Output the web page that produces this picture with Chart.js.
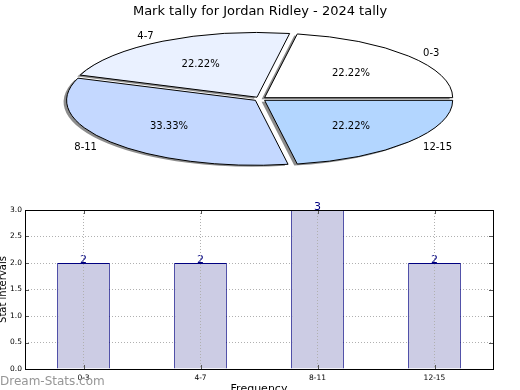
<!DOCTYPE html>
<html>
<head>
<meta charset="utf-8">
<script src="https://cdn.jsdelivr.net/npm/chart.js@4.4.1/dist/chart.umd.min.js"></script>
<style>
  html, body { margin: 0; padding: 0; background: #fff; }
  #wrap { position: relative; width: 520px; height: 390px; overflow: hidden; }
  #bars { position: absolute; left: 0; top: 200px; }
  #pie { position: absolute; left: 0; top: 0; }
</style>
</head>
<body>
<div id="wrap">
  <canvas id="bars" width="520" height="190"></canvas>
  <canvas id="pie" width="520" height="390"></canvas>
</div>
<script>
const TITLE = 'Mark tally for Jordan Ridley - 2024 tally';
const CATEGORIES = ['0-3', '4-7', '8-11', '12-15'];
const COUNTS = [2, 2, 3, 2];
const SLICE_COLORS = ['#ffffff', '#eaf1ff', '#c4d8ff', '#b3d6ff'];
const Y_TICKS = [0, 0.5, 1, 1.5, 2, 2.5, 3];
const Y_TITLE = 'Stat intervals';
const X_TITLE = 'Frequency';
const WATERMARK = 'Dream-Stats.com';

// pie geometry (matplotlib style squashed pie)
const PIE_CX = 260;
const PIE_CY = 99;
const PIE_R = 188;
const SQUASH = 0.344;
const EXPLODE = 6;

Chart.defaults.font.family = '"DejaVu Sans", sans-serif';
Chart.defaults.color = '#000';

const total = COUNTS.reduce((a, b) => a + b, 0);

const ellipsePie = {
  id: 'ellipsePie',
  beforeDatasetsDraw(chart) {
    const ctx = chart.ctx;
    const arc = chart.getDatasetMeta(0).data[0];
    ctx.save();
    ctx.translate(PIE_CX, PIE_CY);
    ctx.scale(1, SQUASH);
    ctx.translate(-arc.x, -arc.y);
    ctx.shadowColor = 'rgba(0, 0, 0, 0.45)';
    ctx.shadowOffsetX = -3;
    ctx.shadowOffsetY = 1.5;
    const stroke = ctx.stroke;
    // keep the outline 1px wide even though the pie is squashed
    ctx.stroke = function () {
      this.save();
      this.setTransform(1, 0, 0, 1, 0, 0);
      this.shadowColor = 'transparent';
      stroke.call(this);
      this.restore();
    };
  },
  afterDatasetsDraw(chart) {
    const ctx = chart.ctx;
    delete ctx.stroke;
    ctx.restore();

    ctx.save();
    ctx.font = '10px "DejaVu Sans"';
    ctx.fillStyle = '#000';
    ctx.textBaseline = 'middle';
    let cum = 0;
    COUNTS.forEach((v, i) => {
      const mid = (cum + v / 2) / total * 2 * Math.PI;
      cum += v;
      const c = Math.cos(mid), s = Math.sin(mid);
      const lr = EXPLODE + 1.1 * PIE_R;
      const pr = EXPLODE + 0.6 * PIE_R;
      ctx.textAlign = c >= 0 ? 'left' : 'right';
      ctx.fillText(CATEGORIES[i], PIE_CX + lr * c, PIE_CY + 1 - lr * s * SQUASH);
      ctx.textAlign = 'center';
      ctx.fillText((v / total * 100).toFixed(2) + '%', PIE_CX + pr * c, PIE_CY + 1 - pr * s * SQUASH);
    });
    ctx.restore();
  }
};

new Chart(document.getElementById('pie'), {
  type: 'pie',
  data: {
    labels: CATEGORIES.slice().reverse(),
    datasets: [{
      data: COUNTS.slice().reverse(),
      backgroundColor: SLICE_COLORS.slice().reverse(),
      borderColor: '#000',
      borderWidth: 1,
      offset: EXPLODE * 4,
      clip: false
    }]
  },
  options: {
    responsive: false,
    animation: false,
    events: [],
    radius: PIE_R,
    rotation: 90,
    plugins: {
      legend: { display: false },
      tooltip: { enabled: false },
      title: {
        display: true,
        text: TITLE,
        color: '#000',
        font: { size: 13, weight: 'normal' },
        padding: { top: 4, bottom: 0 }
      }
    }
  },
  plugins: [ellipsePie]
});

const barDecor = {
  id: 'barDecor',
  afterDatasetsDraw(chart) {
    const ctx = chart.ctx;
    ctx.save();
    ctx.font = '11px "DejaVu Sans"';
    ctx.fillStyle = '#000080';
    ctx.textAlign = 'center';
    ctx.textBaseline = 'alphabetic';
    chart.getDatasetMeta(0).data.forEach((bar, i) => {
      ctx.fillText(String(COUNTS[i]), bar.x, bar.y);
    });
    ctx.restore();
  },
  afterDraw(chart) {
    const { ctx, chartArea: a, scales } = chart;
    ctx.save();
    // inward tick marks
    ctx.strokeStyle = '#555';
    ctx.lineWidth = 1;
    ctx.beginPath();
    scales.y.ticks.forEach((t, i) => {
      const y = Math.round(scales.y.getPixelForTick(i)) + 0.5;
      ctx.moveTo(a.left, y); ctx.lineTo(a.left + 4, y);
      ctx.moveTo(a.right, y); ctx.lineTo(a.right - 4, y);
    });
    scales.x.ticks.forEach((t, i) => {
      const x = Math.round(scales.x.getPixelForTick(i)) + 0.5;
      ctx.moveTo(x, a.bottom); ctx.lineTo(x, a.bottom - 4);
      ctx.moveTo(x, a.top); ctx.lineTo(x, a.top + 4);
    });
    ctx.stroke();
    // axes box
    ctx.strokeStyle = '#000';
    ctx.strokeRect(Math.round(a.left) + 0.5, Math.round(a.top) + 0.5,
      Math.round(a.right - a.left), Math.round(a.bottom - a.top));
    // axis titles
    ctx.fillStyle = '#000';
    ctx.font = '10px "DejaVu Sans"';
    ctx.save();
    ctx.translate(6, (a.top + a.bottom) / 2);
    ctx.rotate(-Math.PI / 2);
    ctx.textAlign = 'center';
    ctx.textBaseline = 'alphabetic';
    ctx.fillText(Y_TITLE, 0, 0);
    ctx.restore();
    ctx.font = '11px "DejaVu Sans"';
    ctx.textAlign = 'center';
    ctx.textBaseline = 'top';
    ctx.fillText(X_TITLE, (a.left + a.right) / 2, 184);
    // watermark
    ctx.font = '12px "DejaVu Sans"';
    ctx.fillStyle = '#969696';
    ctx.textAlign = 'left';
    ctx.textBaseline = 'alphabetic';
    ctx.fillText(WATERMARK, 0, 185);
    ctx.restore();
  }
};

new Chart(document.getElementById('bars'), {
  type: 'bar',
  data: {
    labels: CATEGORIES,
    datasets: [{
      data: COUNTS,
      backgroundColor: '#ccccE4',
      borderColor: '#000080',
      borderWidth: 1,
      barPercentage: 0.45,
      categoryPercentage: 1
    }]
  },
  options: {
    responsive: false,
    animation: false,
    events: [],
    layout: { padding: { top: 10, right: 27, left: 0, bottom: 0 } },
    plugins: {
      legend: { display: false },
      tooltip: { enabled: false }
    },
    scales: {
      x: {
        afterFit: (s) => { s.height = 21; },
        grid: { offset: false, drawTicks: false, color: '#b0b0b0', z: 1 },
        border: { display: false, dash: [1, 2] },
        ticks: { padding: 5, font: { size: 7.5 }, color: '#000' }
      },
      y: {
        min: Y_TICKS[0],
        max: Y_TICKS[Y_TICKS.length - 1],
        afterFit: (s) => { s.width = 25; },
        grid: { drawTicks: false, color: '#b0b0b0' },
        border: { display: false, dash: [1, 2] },
        ticks: {
          stepSize: Y_TICKS[1] - Y_TICKS[0],
          padding: 3,
          font: { size: 7.5 },
          color: '#000',
          callback: (v) => v.toFixed(1)
        }
      }
    }
  },
  plugins: [barDecor]
});
</script>
</body>
</html>
